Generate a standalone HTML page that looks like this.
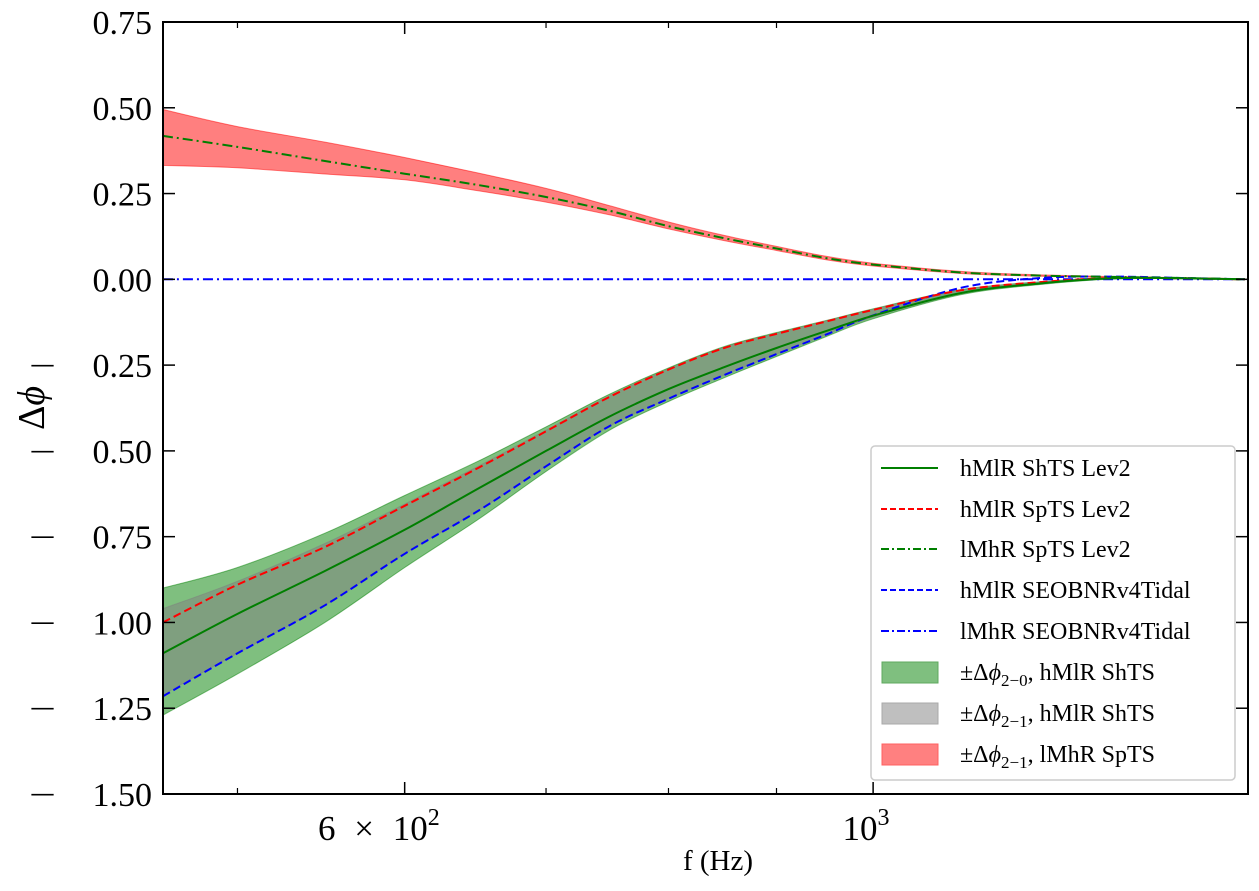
<!DOCTYPE html>
<html><head><meta charset="utf-8"><style>
body{margin:0;background:#fff;}
svg text{font-family:"Liberation Serif",serif;fill:#000;}
</style></head><body>
<svg id="chart" width="1259" height="891" viewBox="0 0 1259 891" xmlns="http://www.w3.org/2000/svg" style="position:absolute;left:0;top:0">
<g id="bands"></g><g id="lines"></g><g id="axes"></g>
</svg>
<script>
const freqs=[461,500,550,600,650,700,750,800,850,900,950,1000,1100,1200,1300,1400,1500];
const hmlrShTS=[-1.09,-0.975,-0.85,-0.73,-0.61,-0.50,-0.40,-0.32,-0.256,-0.20,-0.151,-0.106,-0.04,-0.012,0.003,0.003,0];
const hmlrSpTS=[-1.0,-0.89,-0.78,-0.66,-0.55,-0.443,-0.343,-0.263,-0.20,-0.159,-0.123,-0.089,-0.032,-0.008,0.004,0.003,0];
const lmhrSpTS=[0.418,0.386,0.345,0.308,0.275,0.24,0.20,0.155,0.12,0.09,0.062,0.043,0.02,0.011,0.007,0.004,0];
const hmlrSEOB=[-1.215,-1.09,-0.95,-0.80,-0.675,-0.545,-0.428,-0.348,-0.279,-0.218,-0.161,-0.105,-0.025,0.004,0.008,0.004,0];
const lmhrSEOB=[0,0,0,0,0,0,0,0,0,0,0,0,0,0,0,0,0];
const green20Up=[-0.90,-0.84,-0.74,-0.63,-0.53,-0.43,-0.335,-0.258,-0.196,-0.155,-0.12,-0.086,-0.03,-0.007,0.005,0.004,0];
const green20Lo=[-1.27,-1.15,-1.0,-0.84,-0.70,-0.56,-0.44,-0.356,-0.287,-0.225,-0.167,-0.115,-0.045,-0.015,0.001,0.002,0];
const gray21Up=[-0.96,-0.88,-0.77,-0.655,-0.545,-0.44,-0.34,-0.262,-0.199,-0.158,-0.122,-0.088,-0.032,-0.008,0.004,0.003,0];
const gray21Lo=[-1.21,-1.09,-0.95,-0.80,-0.675,-0.545,-0.428,-0.348,-0.279,-0.218,-0.161,-0.11,-0.042,-0.013,0.002,0.002,0];
const red21Up=[0.495,0.445,0.40,0.355,0.31,0.265,0.215,0.167,0.128,0.096,0.067,0.047,0.023,0.013,0.008,0.005,0];
const red21Lo=[0.332,0.325,0.307,0.29,0.258,0.225,0.188,0.147,0.113,0.084,0.057,0.039,0.017,0.009,0.006,0.003,0];
const yTicks=[0.75,0.5,0.25,0,-0.25,-0.5,-0.75,-1,-1.25,-1.5];
const yTickLabels=["0.75","0.50","0.25","0.00","0.25","0.50","0.75","1.00","1.25","1.50"];
const xMinor=[500,700,800,900];

const NS="http://www.w3.org/2000/svg";
const L=163,R=1248,T=22,B=794;
const LOGMIN=Math.log10(461),LOGMAX=Math.log10(1505);
const yMin=-1.5,yMax=0.75;
function X(f){return L+(Math.log10(f)-LOGMIN)/(LOGMAX-LOGMIN)*(R-L);}
function Y(v){return B-(v-yMin)/(yMax-yMin)*(B-T);}
function mk(tag,attrs,parent){const e=document.createElementNS(NS,tag);for(const k in attrs)e.setAttribute(k,attrs[k]);parent.appendChild(e);return e;}
const bands=document.getElementById('bands'),lines=document.getElementById('lines'),axes=document.getElementById('axes');

function smoothPath(pts){
  let d='M'+pts[0][0].toFixed(1)+','+pts[0][1].toFixed(1);
  for(let i=0;i<pts.length-1;i++){
    const p0=pts[Math.max(0,i-1)],p1=pts[i],p2=pts[i+1],p3=pts[Math.min(pts.length-1,i+2)];
    const c1x=p1[0]+(p2[0]-p0[0])/6,c1y=p1[1]+(p2[1]-p0[1])/6;
    const c2x=p2[0]-(p3[0]-p1[0])/6,c2y=p2[1]-(p3[1]-p1[1])/6;
    d+='C'+c1x.toFixed(1)+','+c1y.toFixed(1)+' '+c2x.toFixed(1)+','+c2y.toFixed(1)+' '+p2[0].toFixed(1)+','+p2[1].toFixed(1);
  }
  return d;
}
function band(up,lo,fill,name){
  const a=freqs.map((f,i)=>[X(f),Y(up[i])]);
  const b=freqs.map((f,i)=>[X(f),Y(lo[i])]).reverse();
  const d=smoothPath(a)+smoothPath(b).replace('M','L')+'Z';
  const p=mk('path',{d:d,fill:fill,'fill-opacity':0.5,stroke:fill,'stroke-opacity':0.5,'stroke-width':1},bands);
  
  
}
band(red21Up,red21Lo,'#ff0000','band-lmhr-spts');
band(green20Up,green20Lo,'#008000','band-hmlr-shts-2-0');
band(gray21Up,gray21Lo,'#808080','band-hmlr-shts-2-1');

function line(vals,color,dash,name){
  const d=smoothPath(freqs.map((f,i)=>[X(f),Y(vals[i])]));
  const p=mk('path',{d:d,fill:'none',stroke:color,'stroke-width':2,'stroke-dasharray':dash},lines);
  
  
}
line(lmhrSEOB,'#0000ff','10 4 2 4','line-lmhr-seobnr');
line(hmlrSEOB,'#0000ff','8 4','line-hmlr-seobnr');
line(hmlrSpTS,'#ff0000','8 4','line-hmlr-spts');
line(hmlrShTS,'#007f00','none','line-hmlr-shts');
line(lmhrSpTS,'#007f00','10 4 2 4','line-lmhr-spts');

const fr=mk('rect',{x:L,y:T,width:R-L,height:B-T,fill:'none',stroke:'#000','stroke-width':2},axes);


yTicks.forEach((v,i)=>{
  mk('line',{x1:L,x2:L+12,y1:Y(v),y2:Y(v),stroke:'#000','stroke-width':1.5},axes);
  mk('line',{x1:R,x2:R-12,y1:Y(v),y2:Y(v),stroke:'#000','stroke-width':1.5},axes);
  const t=mk('text',{x:152,y:Y(v)+12,'text-anchor':'end','font-size':34},axes);
  t.textContent=yTickLabels[i];
  
  
  if(v<0){
    const m=mk('text',{x:29,y:Y(v)+12,'font-size':34,textLength:27,lengthAdjust:'spacingAndGlyphs'},axes);
    m.textContent='\u2212';
    
    
  }
});
xMinor.forEach(f=>{
  mk('line',{x1:X(f),x2:X(f),y1:B,y2:B-6,stroke:'#000','stroke-width':1.2},axes);
  mk('line',{x1:X(f),x2:X(f),y1:T,y2:T+6,stroke:'#000','stroke-width':1.2},axes);
});
[600,1000].forEach(f=>{
  mk('line',{x1:X(f),x2:X(f),y1:B,y2:B-12,stroke:'#000','stroke-width':1.5},axes);
  mk('line',{x1:X(f),x2:X(f),y1:T,y2:T+12,stroke:'#000','stroke-width':1.5},axes);
});
</script>
<svg style="position:absolute;left:0;top:0" width="1259" height="891" xmlns="http://www.w3.org/2000/svg">
<text x="318" y="840" font-size="35" font-family="Liberation Serif,serif" word-spacing="10">6 × 10<tspan dy="-15" font-size="24">2</tspan></text>
<text x="866" y="840" text-anchor="middle" font-size="35" font-family="Liberation Serif,serif">10<tspan dy="-15" font-size="24">3</tspan></text>
<text x="718" y="870" text-anchor="middle" font-size="29" font-family="Liberation Serif,serif">f (Hz)</text>
<text transform="translate(44,408) rotate(-90)" text-anchor="middle" font-size="38" font-family="Liberation Serif,serif">Δ<tspan font-style="italic">ϕ</tspan></text>
<g font-family="Liberation Serif,serif" font-size="24">
<rect x="871" y="446" width="364" height="334" rx="4" fill="#fff" fill-opacity="0.85" stroke="#ccc" stroke-width="1.5"/>
<line x1="881" x2="938" y1="468" y2="468" stroke="#007f00" stroke-width="2"/>
<text x="960" y="476">hMlR ShTS Lev2</text>
<line x1="881" x2="938" y1="509" y2="509" stroke="#ff0000" stroke-width="2" stroke-dasharray="6 3"/>
<text x="960" y="517">hMlR SpTS Lev2</text>
<line x1="881" x2="938" y1="549" y2="549" stroke="#007f00" stroke-width="2" stroke-dasharray="8 3 2 3"/>
<text x="960" y="557">lMhR SpTS Lev2</text>
<line x1="881" x2="938" y1="590" y2="590" stroke="#0000ff" stroke-width="2" stroke-dasharray="6 3"/>
<text x="960" y="598">hMlR SEOBNRv4Tidal</text>
<line x1="881" x2="938" y1="631" y2="631" stroke="#0000ff" stroke-width="2" stroke-dasharray="8 3 2 3"/>
<text x="960" y="639">lMhR SEOBNRv4Tidal</text>
<rect x="882" y="662" width="56" height="21" fill="#7fbf7f" stroke="#5fa95f"/>
<text x="960" y="680">±Δ<tspan font-style="italic">ϕ</tspan><tspan font-size="17" dy="6">2−0</tspan><tspan dy="-6">, hMlR ShTS</tspan></text>
<rect x="882" y="703" width="56" height="21" fill="#bfbfbf" stroke="#aaa"/>
<text x="960" y="721">±Δ<tspan font-style="italic">ϕ</tspan><tspan font-size="17" dy="6">2−1</tspan><tspan dy="-6">, hMlR ShTS</tspan></text>
<rect x="882" y="744" width="56" height="21" fill="#ff8080" stroke="#ff6060"/>
<text x="960" y="762">±Δ<tspan font-style="italic">ϕ</tspan><tspan font-size="17" dy="6">2−1</tspan><tspan dy="-6">, lMhR SpTS</tspan></text>
</g>
</svg>
</body></html>
